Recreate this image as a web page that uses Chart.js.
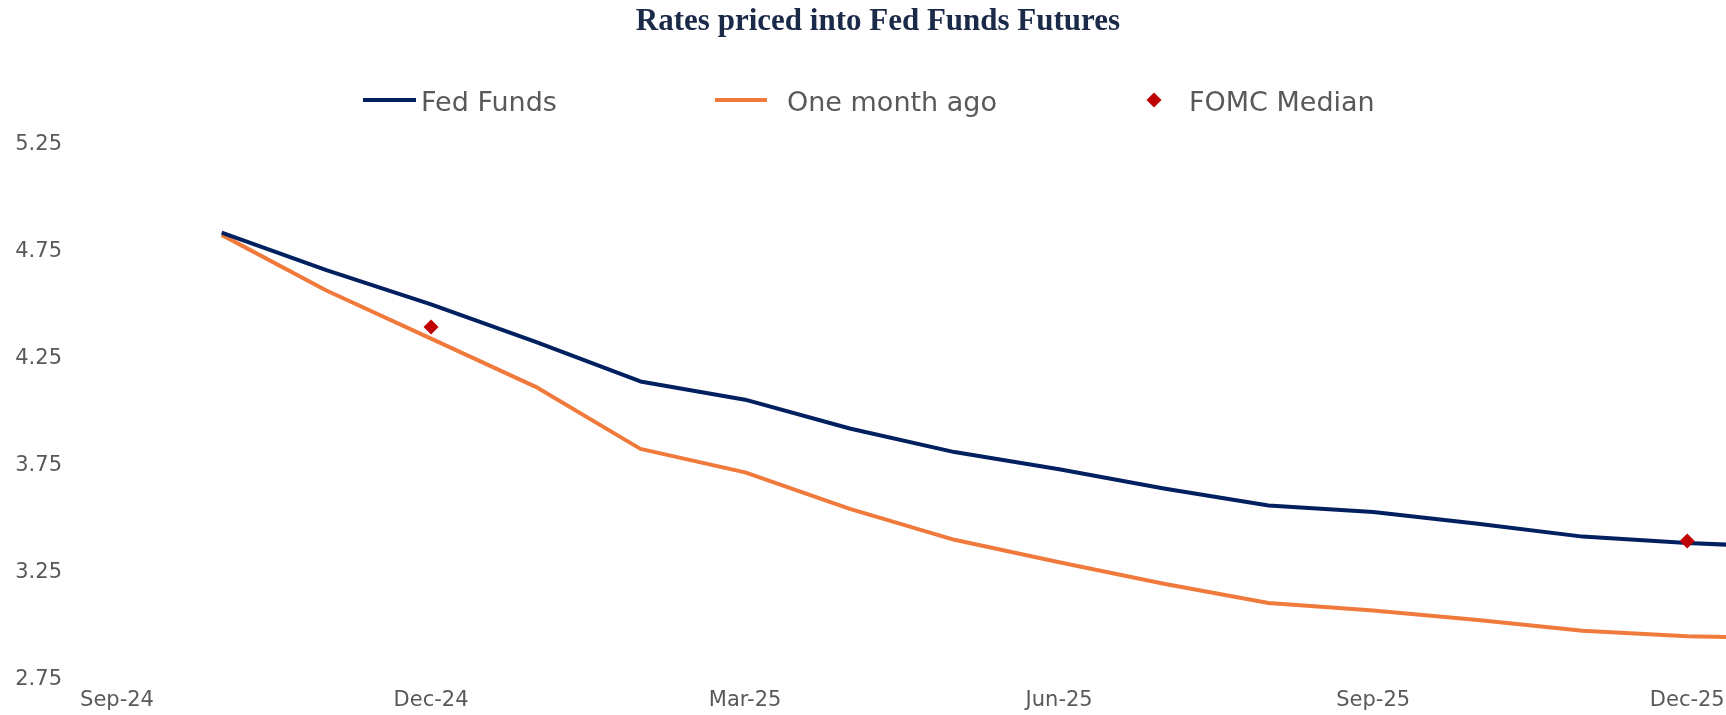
<!DOCTYPE html>
<html>
<head>
<meta charset="utf-8">
<script src="https://cdn.jsdelivr.net/npm/chart.js@4.4.1/dist/chart.umd.min.js"></script>
<style>
  html, body { margin: 0; padding: 0; background: #ffffff; overflow: hidden; }
  #wrap { width: 1726px; height: 715px; }
</style>
</head>
<body>
<div id="wrap"><canvas id="c" width="1726" height="715"></canvas></div>
<script>
// ---- data ----
const chartTitle = 'Rates priced into Fed Funds Futures';
const months = ['Sep-24','Oct-24','Nov-24','Dec-24','Jan-25','Feb-25','Mar-25','Apr-25','May-25',
                'Jun-25','Jul-25','Aug-25','Sep-25','Oct-25','Nov-25','Dec-25','Jan-26'];
const fedFunds    = [null, 4.84, 4.665, 4.505, 4.33, 4.145, 4.06, 3.925, 3.815, 3.735, 3.645, 3.565, 3.535, 3.48, 3.42, 3.39, 3.37];
const oneMonthAgo = [null, 4.83, 4.57, 4.345, 4.12, 3.83, 3.72, 3.55, 3.405, 3.30, 3.20, 3.11, 3.075, 3.03, 2.98, 2.955, 2.945];
const fomcMedian  = [null, null, null, 4.40, null, null, null, null, null, null, null, null, null, null, null, 3.40, null];
const xTickLabels = ['Sep-24','Dec-24','Mar-25','Jun-25','Sep-25','Dec-25'];
const yTickValues = [2.75, 3.25, 3.75, 4.25, 4.75, 5.25];
const seriesNames = ['Fed Funds', 'One month ago', 'FOMC Median'];

function toPoints(arr) {
  return months.map((m, i) => ({ x: i, y: arr[i] })).filter(p => p.y !== null);
}

const FONT = "'DejaVu Sans', 'Noto Sans', sans-serif";
const GRAY = '#595959';

const titlePlugin = {
  id: 'customTitle',
  afterDraw(chart) {
    const ctx = chart.ctx;
    ctx.save();
    ctx.font = "bold 31px 'Liberation Serif', serif";
    ctx.fillStyle = '#1a2a48';
    ctx.textAlign = 'center';
    ctx.textBaseline = 'alphabetic';
    ctx.fillText(chartTitle, 878, 30);
    ctx.restore();
  }
};

const legendPlugin = {
  id: 'customLegend',
  afterDraw(chart) {
    const ctx = chart.ctx;
    const ds = chart.data.datasets;
    const items = [
      { kind: 'line', x0: 363, x1: 416, tx: 421, ds: ds[1] },
      { kind: 'line', x0: 715, x1: 767, tx: 787, ds: ds[2] },
      { kind: 'diamond', cx: 1154, tx: 1189, ds: ds[0] }
    ];
    const ly = 100;
    ctx.save();
    ctx.font = "27px " + FONT;
    ctx.textBaseline = 'alphabetic';
    ctx.textAlign = 'left';
    items.forEach(it => {
      if (it.kind === 'line') {
        ctx.strokeStyle = it.ds.borderColor;
        ctx.lineWidth = 4;
        ctx.lineCap = 'butt';
        ctx.beginPath();
        ctx.moveTo(it.x0, ly);
        ctx.lineTo(it.x1, ly);
        ctx.stroke();
      } else {
        const r = 7.5;
        ctx.fillStyle = it.ds.backgroundColor;
        ctx.beginPath();
        ctx.moveTo(it.cx - r, ly);
        ctx.lineTo(it.cx, ly - r);
        ctx.lineTo(it.cx + r, ly);
        ctx.lineTo(it.cx, ly + r);
        ctx.closePath();
        ctx.fill();
      }
      ctx.fillStyle = GRAY;
      ctx.fillText(it.ds.label, it.tx, 111);
    });
    ctx.restore();
  }
};

new Chart(document.getElementById('c'), {
  type: 'line',
  data: {
    datasets: [
      {
        label: seriesNames[2],
        data: toPoints(fomcMedian),
        showLine: false,
        pointStyle: 'rectRot',
        pointRadius: 7.5,
        pointHoverRadius: 7.5,
        pointBorderWidth: 0,
        backgroundColor: '#C00000',
        borderColor: '#C00000',
        order: 0
      },
      {
        label: seriesNames[0],
        data: toPoints(fedFunds),
        borderColor: '#002060',
        backgroundColor: '#002060',
        borderWidth: 4,
        pointRadius: 0,
        tension: 0,
        borderJoinStyle: 'round',
        order: 1
      },
      {
        label: seriesNames[1],
        data: toPoints(oneMonthAgo),
        borderColor: '#F07A3C',
        backgroundColor: '#F07A3C',
        borderWidth: 4,
        pointRadius: 0,
        tension: 0,
        borderJoinStyle: 'round',
        order: 2
      }
    ]
  },
  options: {
    responsive: false,
    animation: false,
    devicePixelRatio: 1,
    layout: { autoPadding: false, padding: { top: 145, left: 0, right: 0, bottom: 0 } },
    plugins: {
      legend: { display: false },
      title: { display: false },
      tooltip: { enabled: false }
    },
    scales: {
      x: {
        type: 'linear',
        min: 0,
        max: 15.37,
        grid: { display: false, drawTicks: false },
        border: { display: false },
        afterBuildTicks(scale) {
          scale.ticks = xTickLabels.map(l => ({ value: months.indexOf(l) }));
        },
        afterFit(scale) {
          scale.height = 35;
          scale.paddingLeft = 0;
          scale.paddingRight = 0;
          scale.paddingTop = 0;
          scale.paddingBottom = 0;
        },
        ticks: {
          autoSkip: false,
          maxRotation: 0,
          padding: 8,
          color: GRAY,
          font: { family: FONT, size: 21 },
          callback: (v) => months[v]
        }
      },
      y: {
        type: 'linear',
        min: 2.75,
        max: 5.25,
        grid: { display: false, drawTicks: false },
        border: { display: false },
        afterBuildTicks(scale) {
          scale.ticks = yTickValues.map(v => ({ value: v }));
        },
        afterFit(scale) {
          scale.width = 117;
          scale.paddingTop = 0;
          scale.paddingBottom = 0;
          scale.paddingLeft = 0;
          scale.paddingRight = 0;
        },
        ticks: {
          padding: 55,
          color: GRAY,
          font: { family: FONT, size: 21 },
          callback: (v) => Number(v).toFixed(2)
        }
      }
    }
  },
  plugins: [titlePlugin, legendPlugin]
});
</script>
</body>
</html>
